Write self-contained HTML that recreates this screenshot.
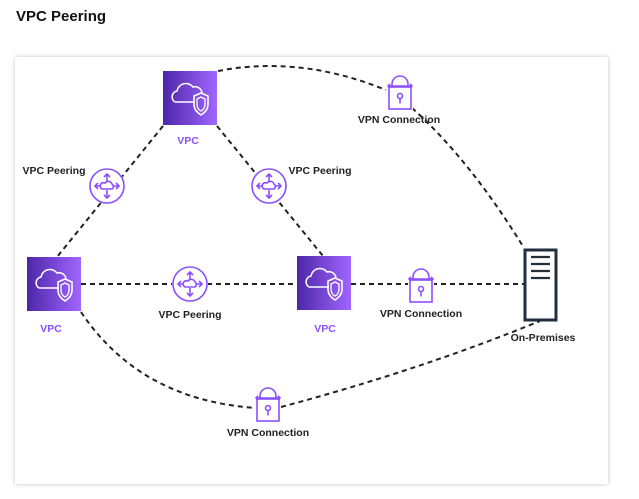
<!DOCTYPE html>
<html><head><meta charset="utf-8"><style>
html,body{margin:0;padding:0;background:#fff;width:639px;height:499px;overflow:hidden;font-family:"Liberation Sans",sans-serif}
h1{position:absolute;left:16px;top:8px;margin:0;font-size:15px;font-weight:bold;color:#111}
.card{position:absolute;left:15px;top:57px;width:593px;height:427px;background:#fff;box-shadow:0 0 4px rgba(0,0,0,.25)}
svg{position:absolute;left:0;top:0}
</style></head><body>
<h1>VPC Peering</h1>
<div class="card"></div>
<svg width="639" height="499" viewBox="0 0 639 499">
<defs>
<linearGradient id="g" x1="0" y1="0" x2="1" y2="0"><stop offset="0" stop-color="#4d27a8"/><stop offset="1" stop-color="#a166ff"/></linearGradient>
<g id="vpc">
<rect x="0" y="0" width="54" height="54" fill="url(#g)"/>
<path d="M12 31 h20 M12 31 a6 6 0 0 1 2-11 a9 9 0 0 1 16-4 a7 7 0 0 1 9 6" fill="none" stroke="#fff" stroke-width="1.6"/>
<path d="M31 25 l7-3 l7 3 v8 c0 6-4 9-7 11 c-3-2-7-5-7-11z" fill="none" stroke="#fff" stroke-width="1.6"/>
<path d="M34 28 l4-2 l4 2 v5 c0 4-2 6-4 7 c-2-1-4-3-4-7z" fill="none" stroke="#fff" stroke-width="1.3"/>
</g>
<g id="peer" fill="none" stroke="#8c4fff" stroke-width="1.6">
<circle r="17"/>
<path d="M0-12v8M0 12v-8M-12 0h6M12 0h-6M-3-9l3-3l3 3M-3 9l3 3l3-3M-9-3l-3 3l3 3M9-3l3 3l-3 3"/>
<path d="M-5 3h10a3 3 0 0 0 0-5a4 4 0 0 0-7-1a3 3 0 0 0-3 6z"/>
</g>
<g id="lock" fill="none" stroke="#8c4fff" stroke-width="1.6">
<rect x="-11" y="-6" width="22" height="22"/>
<path d="M-8-6v-3a8 8 0 0 1 16 0v3"/>
<path d="M-12-7h24M-10-9l-2 2l2 2M10-9l2 2l-2 2"/>
<circle cx="0" cy="3" r="2.5"/><path d="M0 5.5v5"/>
</g>
</defs>
<g fill="none" stroke="#222" stroke-width="2" stroke-dasharray="5 4">
<path d="M218 71 Q300 55 386 90"/>
<path d="M412 108 Q470 160 524 248"/>
<path d="M163 126 L57 257"/>
<path d="M217 126 L323 256"/>
<path d="M81 284 H297"/>
<path d="M351 284 H524"/>
<path d="M81 312 Q140 400 256 408"/>
<path d="M281 407 Q420 370 540 321"/>
</g>
<rect x="80" y="265" width="2" height="1" fill="none"/>
<use href="#vpc" x="163" y="71"/>
<use href="#vpc" x="27" y="257"/>
<use href="#vpc" x="297" y="256"/>
<g fill="#fff"><circle cx="107" cy="186" r="18"/><circle cx="269" cy="186" r="18"/><circle cx="190" cy="284" r="18"/></g>
<use href="#peer" x="107" y="186"/>
<use href="#peer" x="269" y="186"/>
<use href="#peer" x="190" y="284"/>
<g fill="#fff"><rect x="387" y="75" width="26" height="35"/><rect x="408" y="268" width="26" height="35"/><rect x="255" y="387" width="26" height="35"/></g>
<use href="#lock" x="400" y="93"/>
<use href="#lock" x="421" y="286"/>
<use href="#lock" x="268" y="405"/>
<rect x="525" y="250" width="31" height="70" fill="#fff" stroke="#232f3e" stroke-width="3"/>
<g stroke="#232f3e" stroke-width="2.2"><path d="M531 257h19M531 264h19M531 271h19M531 278h19"/></g>
<g font-family="Liberation Sans,sans-serif" font-size="10.5" font-weight="bold" text-anchor="middle" fill="#222">
<text x="54" y="174">VPC Peering</text>
<text x="320" y="174">VPC Peering</text>
<text x="190" y="318">VPC Peering</text>
<text x="399" y="123">VPN Connection</text>
<text x="421" y="317">VPN Connection</text>
<text x="268" y="436">VPN Connection</text>
<text x="543" y="341">On-Premises</text>
<g fill="#8c4fff"><text x="188" y="144">VPC</text><text x="51" y="332">VPC</text><text x="325" y="332">VPC</text></g>
</g>
</svg>
</body></html>
